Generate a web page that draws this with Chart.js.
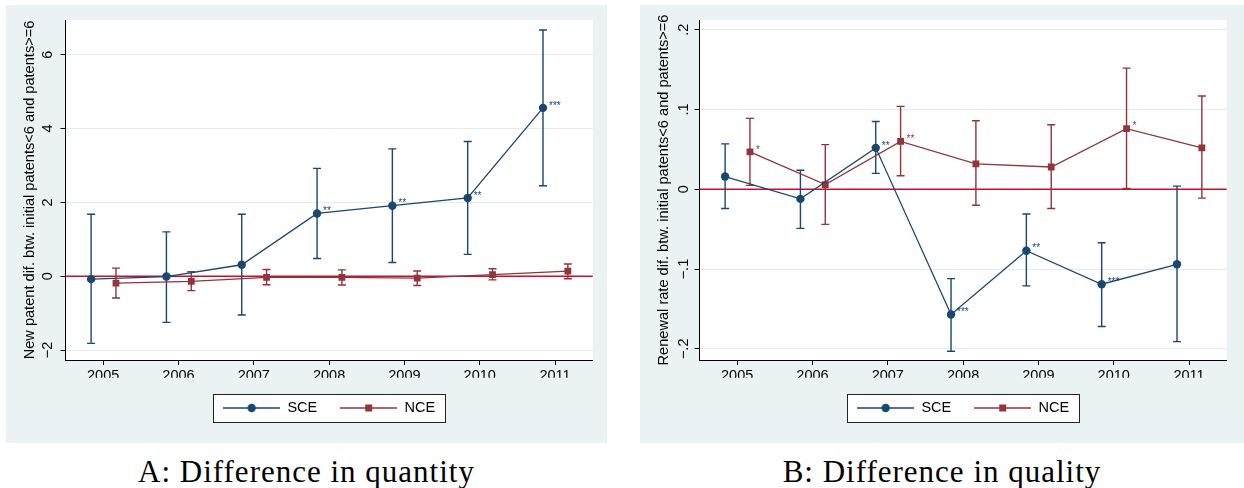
<!DOCTYPE html>
<html>
<head>
<meta charset="utf-8">
<script src="https://cdn.jsdelivr.net/npm/chart.js@4.4.0/dist/chart.umd.min.js"></script>
<style>
body { margin: 0; width: 1244px; height: 488px; background: #fff; position: relative; overflow: hidden; }
.panel { position: absolute; top: 5px; height: 438px; background: #eaf2f3; }
.panel canvas { display: block; }
.caption { position: absolute; top: 453px; height: 38px; font-family: "Liberation Serif", serif; font-size: 31px; letter-spacing: 1px; line-height: 38px; color: #000; text-align: center; }
</style>
</head>
<body>
<div class="panel" style="left:6px;width:601px"><canvas id="chartA" width="601" height="438"></canvas></div>
<div class="panel" style="left:640px;width:604px"><canvas id="chartB" width="604" height="438"></canvas></div>
<div class="caption" style="left:6px;width:601px">A: Difference in quantity</div>
<div class="caption" style="left:640px;width:604px">B: Difference in quality</div>
<script>
const years = [2005, 2006, 2007, 2008, 2009, 2010, 2011];

// panel A: new patent difference
const sceQty = [-0.08, -0.01, 0.31, 1.70, 1.91, 2.12, 4.56];
const sceQtyLo = [-1.82, -1.25, -1.05, 0.48, 0.37, 0.59, 2.45];
const sceQtyHi = [1.68, 1.20, 1.68, 2.92, 3.45, 3.65, 6.67];
const sceQtyStars = ["", "", "", "**", "**", "**", "***"];
const nceQty = [-0.19, -0.14, -0.03, -0.03, -0.05, 0.04, 0.14];
const nceQtyLo = [-0.59, -0.39, -0.23, -0.24, -0.25, -0.10, -0.07];
const nceQtyHi = [0.22, 0.12, 0.18, 0.17, 0.14, 0.20, 0.33];
const nceQtyStars = ["", "", "", "", "", "", ""];
const qtyTicks = [-2, 0, 2, 4, 6];
const qtyTickLabels = ["\u22122", "0", "2", "4", "6"];

// panel B: renewal rate difference
const sceQual = [0.016, -0.012, 0.052, -0.157, -0.077, -0.119, -0.094];
const sceQualLo = [-0.024, -0.049, 0.020, -0.203, -0.121, -0.172, -0.191];
const sceQualHi = [0.057, 0.024, 0.085, -0.112, -0.031, -0.067, 0.004];
const sceQualStars = ["", "", "**", "***", "**", "***", ""];
const nceQual = [0.047, 0.006, 0.060, 0.032, 0.028, 0.076, 0.052];
const nceQualLo = [0.005, -0.044, 0.017, -0.020, -0.024, 0.001, -0.011];
const nceQualHi = [0.089, 0.056, 0.104, 0.086, 0.081, 0.152, 0.117];
const nceQualStars = ["*", "", "**", "", "", "*", ""];
const qualTicks = [-0.2, -0.1, 0, 0.1, 0.2];
const qualTickLabels = ["\u2212.2", "\u2212.1", "0", ".1", ".2"];

const NAVY = "#1a476f";
const MAROON = "#90353b";
const ZERO = "#c8102e";
const FONT = '"Liberation Sans", Arial, sans-serif';

Chart.defaults.font.family = FONT;
Chart.defaults.color = "#000";

function legendIcon(color, shape) {
    const c = document.createElement("canvas");
    c.width = 57;
    c.height = 12;
    const g = c.getContext("2d");
    g.strokeStyle = color;
    g.lineWidth = 1.3;
    g.beginPath();
    g.moveTo(0, 6);
    g.lineTo(57, 6);
    g.stroke();
    g.fillStyle = color;
    if (shape === "circle") {
        g.beginPath();
        g.arc(28.5, 6, 4.2, 0, Math.PI * 2);
        g.fill();
    } else {
        g.fillRect(25, 2.5, 7, 7);
    }
    return c;
}

const statPlugin = {
    id: "stataLook",
    beforeDraw(chart) {
        const { ctx, chartArea: a } = chart;
        ctx.save();
        ctx.fillStyle = "#fff";
        ctx.fillRect(a.left, a.top, a.right - a.left, a.bottom - a.top);
        const lg = chart.legend;
        const pad = lg.options.labels.padding;
        const w = Math.round(lg.lineWidths[0] - pad + 20);
        const cx = (lg.left + lg.right) / 2;
        const cy = lg.top + pad + 7.25;
        const x0 = Math.round(cx - w / 2) + 0.5;
        const y0 = Math.round(cy - 14) + 0.5;
        ctx.fillRect(x0, y0, w, 28);
        ctx.strokeStyle = "#222";
        ctx.lineWidth = 1;
        ctx.strokeRect(x0, y0, w, 28);
        ctx.restore();
    },
    beforeDatasetsDraw(chart) {
        const { ctx, chartArea: a, scales } = chart;
        const ys = scales.y;
        ctx.save();
        const y0 = ys.getPixelForValue(0);
        ctx.strokeStyle = ZERO;
        ctx.lineWidth = 1.5;
        ctx.beginPath();
        ctx.moveTo(a.left, y0);
        ctx.lineTo(a.right, y0);
        ctx.stroke();
        chart.data.datasets.forEach((ds, i) => {
            const meta = chart.getDatasetMeta(i);
            ctx.strokeStyle = ds.borderColor;
            ctx.lineWidth = 1.4;
            meta.data.forEach((pt, j) => {
                const lo = ys.getPixelForValue(ds.ci[0][j]);
                const hi = ys.getPixelForValue(ds.ci[1][j]);
                ctx.beginPath();
                ctx.moveTo(pt.x, lo);
                ctx.lineTo(pt.x, hi);
                ctx.moveTo(pt.x - 4, lo);
                ctx.lineTo(pt.x + 4, lo);
                ctx.moveTo(pt.x - 4, hi);
                ctx.lineTo(pt.x + 4, hi);
                ctx.stroke();
            });
        });
        ctx.restore();
    },
    afterDatasetsDraw(chart) {
        const { ctx } = chart;
        ctx.save();
        ctx.font = "10px " + FONT;
        ctx.textAlign = "left";
        ctx.textBaseline = "middle";
        chart.data.datasets.forEach((ds, i) => {
            const meta = chart.getDatasetMeta(i);
            ctx.fillStyle = ds.borderColor;
            meta.data.forEach((pt, j) => {
                if (ds.stars[j]) ctx.fillText(ds.stars[j], pt.x + 6, pt.y - 2);
            });
        });
        ctx.restore();
    },
};

function makeChart(id, cfg) {
    const points = (vals, shift) => vals.map((v, i) => ({ x: years[i] + shift, y: v }));
    const icons = [legendIcon(NAVY, "circle"), legendIcon(MAROON, "rect")];
    return new Chart(document.getElementById(id), {
        type: "line",
        data: {
            datasets: [
                {
                    label: "SCE",
                    data: points(cfg.sce, -0.16),
                    ci: [cfg.sceLo, cfg.sceHi],
                    stars: cfg.sceStars,
                    borderColor: NAVY,
                    backgroundColor: NAVY,
                    borderWidth: 1.3,
                    pointStyle: "circle",
                    pointRadius: 4.2,
                    pointBorderWidth: 0,
                },
                {
                    label: "NCE",
                    data: points(cfg.nce, 0.17),
                    ci: [cfg.nceLo, cfg.nceHi],
                    stars: cfg.nceStars,
                    borderColor: MAROON,
                    backgroundColor: MAROON,
                    borderWidth: 1.3,
                    pointStyle: "rect",
                    pointRadius: 4.8,
                    pointBorderWidth: 0,
                },
            ],
        },
        options: {
            responsive: false,
            animation: false,
            events: [],
            layout: { padding: { top: 15, left: 0, right: cfg.rightPad, bottom: 17.75 } },
            plugins: {
                tooltip: { enabled: false },
                legend: {
                    position: "bottom",
                    fullSize: false,
                    labels: {
                        usePointStyle: true,
                        pointStyleWidth: 57,
                        boxHeight: 12,
                        padding: 23,
                        color: "#000",
                        font: { size: 14.5 },
                        generateLabels: (chart) =>
                            chart.data.datasets.map((d, i) => ({
                                text: d.label,
                                pointStyle: icons[i],
                                datasetIndex: i,
                                fontColor: "#000",
                                lineWidth: 0,
                                strokeStyle: "transparent",
                                fillStyle: "transparent",
                            })),
                    },
                },
            },
            scales: {
                x: {
                    type: "linear",
                    min: 2004.5,
                    max: 2011.5,
                    afterBuildTicks: (s) => { s.ticks = years.map((v) => ({ value: v })); },
                    afterFit: (s) => { s.height = 17.75; },
                    grid: { drawOnChartArea: false, drawTicks: true, tickLength: 5, tickColor: "#000", tickWidth: 1 },
                    border: { color: "#000", width: 1 },
                    ticks: { color: "#000", font: { size: 14.5 }, padding: 2, maxRotation: 0, autoSkip: false, callback: (v) => String(v) },
                },
                y: {
                    min: cfg.yMin,
                    max: cfg.yMax,
                    afterBuildTicks: (s) => { s.ticks = cfg.ticks.map((v) => ({ value: v })); },
                    afterFit: (s) => { s.width = 59.5; },
                    grid: { color: "#e3ecee", lineWidth: 1, drawTicks: true, tickLength: 5, tickColor: "#000", tickWidth: 1 },
                    border: { color: "#000", width: 1 },
                    ticks: {
                        color: "#000",
                        font: { size: 14.5 },
                        padding: cfg.tickPad,
                        crossAlign: "center",
                        minRotation: 90,
                        maxRotation: 90,
                        autoSkip: false,
                        callback: (v) => cfg.tickLabels[cfg.ticks.findIndex((t) => Math.abs(t - v) < 1e-9)],
                    },
                    title: { display: true, text: cfg.title, color: "#000", font: { size: 14.6 }, padding: { top: 15.3, bottom: 0 } },
                },
            },
        },
        plugins: [statPlugin],
    });
}

makeChart("chartA", {
    sce: sceQty, sceLo: sceQtyLo, sceHi: sceQtyHi, sceStars: sceQtyStars,
    nce: nceQty, nceLo: nceQtyLo, nceHi: nceQtyHi, nceStars: nceQtyStars,
    ticks: qtyTicks, tickLabels: qtyTickLabels,
    yMin: -2.27, yMax: 6.94, tickPad: 4.5, rightPad: 14.3,
    title: "New patent dif. btw. initial patents<6 and patents>=6",
});

makeChart("chartB", {
    sce: sceQual, sceLo: sceQualLo, sceHi: sceQualHi, sceStars: sceQualStars,
    nce: nceQual, nceLo: nceQualLo, nceHi: nceQualHi, nceStars: nceQualStars,
    ticks: qualTicks, tickLabels: qualTickLabels,
    yMin: -0.214, yMax: 0.2123, tickPad: 0.2, rightPad: 17.3,
    title: "Renewal rate dif. btw. initial patents<6 and patents>=6",
});
</script>
</body>
</html>
